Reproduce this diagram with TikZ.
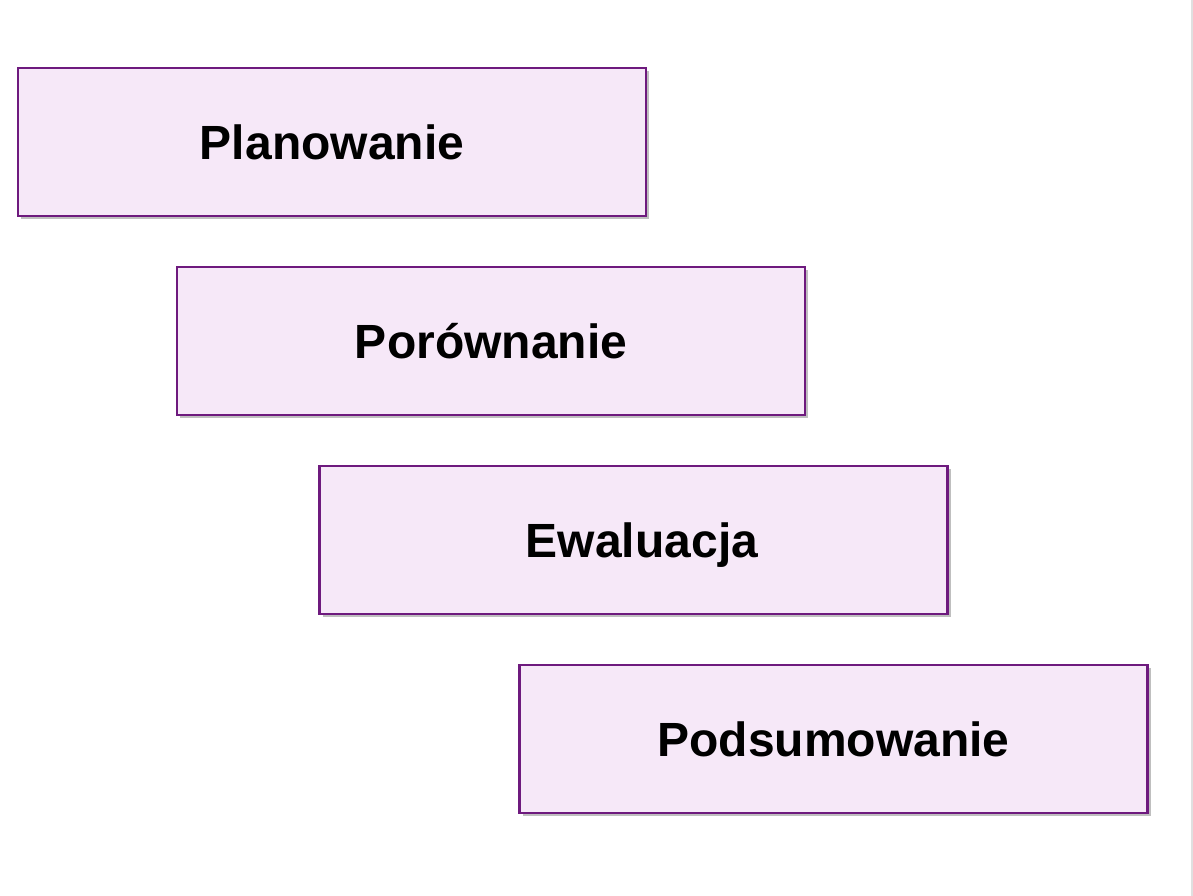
\documentclass[tikz,border=0pt]{standalone}
\usepackage{fontspec}
\setmainfont{Liberation Sans}
\usetikzlibrary{shadows}
\definecolor{stageline}{HTML}{6E1A7E}
\definecolor{stagefill}{HTML}{F6E8F8}
\begin{document}
\begin{tikzpicture}[x=1pt, y=-1pt,
  stage/.style={draw=stageline, fill=stagefill, line width=2.5pt,
    minimum width=628pt, minimum height=148pt, inner sep=0pt,
    text height=34.4pt, text depth=0pt,
    font=\fontsize{48}{50}\selectfont\bfseries,
    drop shadow={shadow xshift=3pt, shadow yshift=-3pt, opacity=0.5}}]
\useasboundingbox[fill=white] (0,0) rectangle (1193,896);
\draw[black!12, line width=1.5pt] (1192,0) -- (1192,896);

\node[stage] (plan) at (332,142) {Planowanie};

\node[stage] (por) at (491,341) {Porównanie};

\node[stage] (ewal) at (633.5,540) {\hspace*{17pt}Ewaluacja};

% last one
\node[stage] (pods) at (833.5,739) {Podsumowanie};

\end{tikzpicture}
\end{document}
